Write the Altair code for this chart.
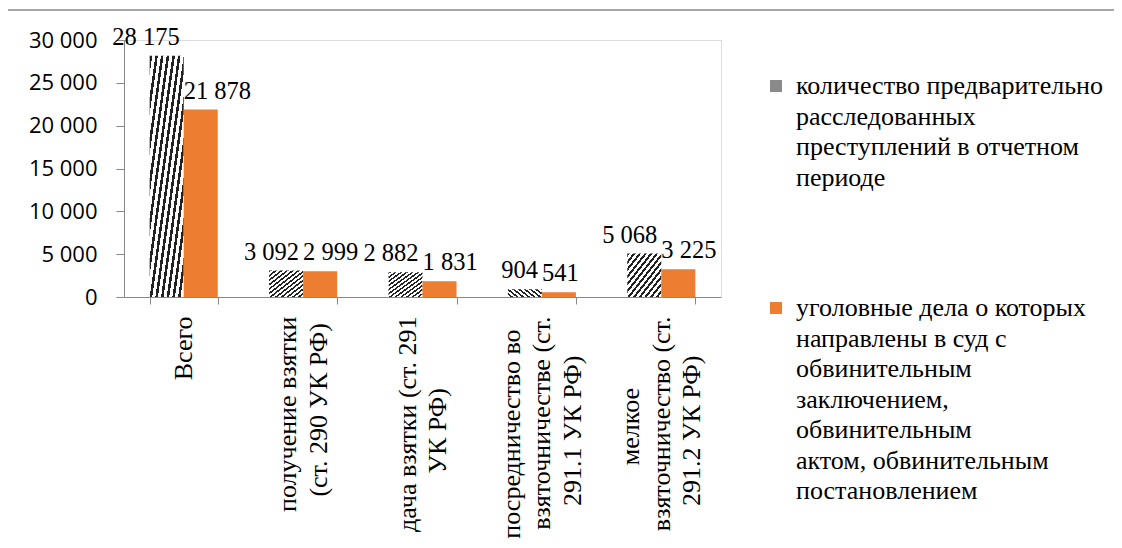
import altair as alt
import pandas as pd

categories = [
    "Всего",
    "получение взятки\n(ст. 290 УК РФ)",
    "дача взятки (ст. 291\nУК РФ)",
    "посредничество во\nвзяточничестве (ст.\n291.1 УК РФ)",
    "мелкое\nвзяточничество (ст.\n291.2 УК РФ)",
]
series_names = [
    "количество предварительно\nрасследованных\nпреступлений в отчетном\nпериоде",
    "уголовные дела о которых\nнаправлены в суд с\nобвинительным\nзаключением,\nобвинительным\nактом, обвинительным\nпостановлением",
]
series_keys = ["a", "b"]
investigated = [28175, 3092, 2882, 904, 5068]
to_court = [21878, 2999, 1831, 541, 3225]
y_ticks = [0, 5000, 10000, 15000, 20000, 25000, 30000]

rows = []
for key, name, vals in zip(series_keys, series_names, [investigated, to_court]):
    for c, v in zip(categories, vals):
        rows.append({"category": c, "series": name, "key": key, "value": v})
df = pd.DataFrame(rows)

GRAY = "#898989"
ORANGE = "#ED7D31"
SERIF = "Liberation Serif"
NBSP = "\u00a0"
WJ = "\u2060"  # zero-width, keeps trailing padding from being trimmed
LH = 30.5

# hatch pattern as a hard-stop linear gradient
N = 12
stops = []
for i in range(N):
    a = i / N
    b = (i + 0.45) / N
    c = (i + 1) / N
    stops += [
        {"offset": a, "color": "#222222"},
        {"offset": b, "color": "#222222"},
        {"offset": b, "color": "#ffffff"},
        {"offset": c, "color": "#ffffff"},
    ]
hatch = {"gradient": "linear", "x1": 0, "y1": 0, "x2": 1, "y2": 1, "stops": stops}

# x labels: split into lines, pad shorter lines so that lines look centred
SPLIT = "split(datum.label, '\\n')"


def _line(i):
    return f"({SPLIT}[{i}] || '')"


_MAXLEN = f"max(length({_line(0)}), length({_line(1)}), length({_line(2)}))"


def _padded(i):
    return (
        f"pad({_line(i)}, length({_line(i)}) + round(({_MAXLEN} - length({_line(i)})) * 0.81), '{NBSP}') + '{WJ}'"
    )


x_label_expr = (
    f"length({SPLIT}) == 1 ? datum.label : "
    f"length({SPLIT}) == 2 ? [{_padded(0)}, {_padded(1)}] : "
    f"[{_padded(0)}, {_padded(1)}, {_padded(2)}]"
)

nlines = "length(split(datum.value, '\\n'))"
x_enc = alt.X(
    "category:N",
    sort=categories,
    scale=alt.Scale(paddingInner=0.43, paddingOuter=0.215),
    axis=alt.Axis(
        title=None,
        labelAngle=270,
        labelAlign="right",
        labelBaseline="middle",
        labelExpr=x_label_expr,
        labelFont=SERIF,
        labelFontSize=26,
        labelColor="black",
        labelLineHeight=LH,
        labelPadding=12,
        labelLimit=400,
        labelOverlap=False,
        labelOffset={
            "condition": [
                {"test": nlines + " == 3", "value": -LH},
                {"test": nlines + " == 2", "value": -LH / 2},
            ],
            "value": 0,
        },
        tickBand="extent",
        tickSize=7,
        tickColor=GRAY,
        domainColor=GRAY,
    ),
)
y_enc = alt.Y(
    "value:Q",
    scale=alt.Scale(domain=[0, 30000], nice=False),
    axis=alt.Axis(
        title=None,
        values=y_ticks,
        labelExpr="replace(format(datum.value, ','), ',', '" + NBSP + "')",
        labelFont="Open Sans",
        labelFontSize=22,
        labelColor="black",
        tickSize=8,
        labelPadding=19,
        tickColor=GRAY,
        domainColor=GRAY,
        grid=False,
    ),
)
xo_enc = alt.XOffset("key:N", scale=alt.Scale(domain=series_keys))

base = alt.Chart(df).transform_calculate(
    label="replace(format(datum.value, ','), ',', '" + NBSP + "')"
)

bars_a = base.transform_filter(alt.FieldEqualPredicate(field="key", equal="a")).mark_bar().encode(
    x=x_enc, y=y_enc, xOffset=xo_enc, fill=alt.value(hatch)
)
bars_b = base.transform_filter(alt.FieldEqualPredicate(field="key", equal="b")).mark_bar().encode(
    x=x_enc,
    y=y_enc,
    xOffset=xo_enc,
    color=alt.Color(
        "series:N",
        scale=alt.Scale(domain=series_names, range=["#8a8a8a", ORANGE]),
        legend=alt.Legend(
            title=None,
            orient="none",
            legendX=639,
            legendY=33,
            labelExpr="split(datum.label, '\\n')",
            labelFont=SERIF,
            labelFontSize=26,
            labelColor="black",
            labelLimit=600,
            labelBaseline="middle",
            labelOffset=7,
            symbolType="square",
            symbolSize=144,
            symbolStrokeWidth=0,
            rowPadding=104,
        ),
    ),
)

text_a = base.transform_filter(alt.FieldEqualPredicate(field="key", equal="a")).mark_text(
    align="right", baseline="alphabetic", dx=-4, dy=-11, font=SERIF, fontSize=24.5, color="black"
).encode(x=x_enc, y=y_enc, text="label:N")
text_b = base.transform_filter(alt.FieldEqualPredicate(field="key", equal="b")).mark_text(
    align="left", baseline="alphabetic", dx=0, dy=-11, font=SERIF, fontSize=24.5, color="black"
).encode(x=x_enc, y=y_enc, text="label:N")

frame = alt.Chart(pd.DataFrame({"f": [0]})).mark_rect(
    fillOpacity=0, stroke=GRAY, strokeWidth=1.5
).encode(x=alt.value(-117), x2=alt.value(1400), y=alt.value(-30), y2=alt.value(900))

chart = (
    alt.layer(frame, bars_a, bars_b, text_a, text_b)
    .properties(
        width=597,
        height=257,
        autosize=alt.AutoSizeParams(type="none"),
        padding={"left": 116, "top": 32, "right": 393, "bottom": 243},
    )
    .configure_view(stroke=None)
    .configure(style={"guide-label": {"lineHeight": LH}})
)

chart.save("out.html", embed_options={"renderer": "svg", "actions": False})
